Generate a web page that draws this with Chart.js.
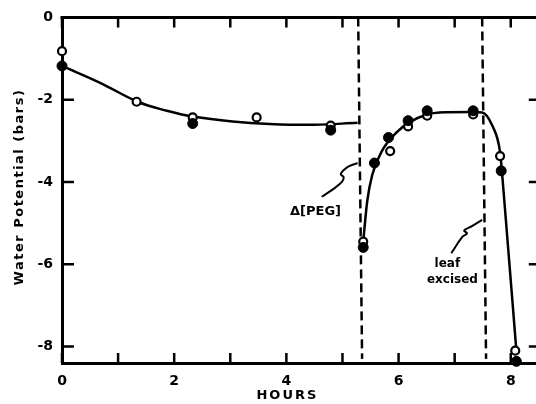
<!DOCTYPE html>
<html>
<head>
<meta charset="utf-8">
<script src="https://cdn.jsdelivr.net/npm/chart.js@4/dist/chart.umd.min.js"></script>
<style>
  html, body { margin: 0; padding: 0; background: #fff; overflow: hidden; }
  canvas { display: block; }
</style>
</head>
<body>
<canvas id="potentialChart" width="545" height="404"></canvas>
<script>
// tick labels and tick marks
const xTickLabels = [0, 2, 4, 6, 8];
const yTickLabels = [0, -2, -4, -6, -8];
const hourMarks = [0, 1, 2, 3, 4, 5, 6, 7, 8];
const barMarks = [-2, -4, -6, -8];

// measured points (hours, bars)
const openPoints = [
    { x: 0, y: -0.82 }, { x: 1.33, y: -2.05 }, { x: 2.33, y: -2.43 }, { x: 3.47, y: -2.43 },
    { x: 4.79, y: -2.63 }, { x: 5.37, y: -5.45 }, { x: 5.85, y: -3.25 }, { x: 6.17, y: -2.65 },
    { x: 6.51, y: -2.39 }, { x: 7.33, y: -2.36 }, { x: 7.81, y: -3.37 }, { x: 8.08, y: -8.1 }
];
const filledPoints = [
    { x: 0, y: -1.18 }, { x: 2.33, y: -2.58 }, { x: 4.79, y: -2.74 }, { x: 5.37, y: -5.59 },
    { x: 5.57, y: -3.54 }, { x: 5.82, y: -2.92 }, { x: 6.17, y: -2.51 }, { x: 6.51, y: -2.27 },
    { x: 7.33, y: -2.27 }, { x: 7.83, y: -3.73 }, { x: 8.1, y: -8.36 }
];

// hand-drawn curves
const curveBefore = [
    { x: 0, y: -1.18 }, { x: 0.68, y: -1.59 }, { x: 1.35, y: -2.05 }, { x: 1.87, y: -2.27 },
    { x: 2.33, y: -2.41 }, { x: 3.04, y: -2.53 }, { x: 3.7, y: -2.59 }, { x: 4.5, y: -2.61 },
    { x: 5.27, y: -2.56 }
];
const curveAfter = [
    { x: 5.37, y: -5.45 }, { x: 5.44, y: -4.48 }, { x: 5.53, y: -3.83 }, { x: 5.71, y: -3.23 },
    { x: 5.96, y: -2.8 }, { x: 6.19, y: -2.55 }, { x: 6.51, y: -2.36 }, { x: 6.73, y: -2.31 },
    { x: 7.33, y: -2.3 }, { x: 7.49, y: -2.31 }, { x: 7.67, y: -2.63 }, { x: 7.81, y: -3.28 },
    { x: 7.87, y: -4.2 }, { x: 8.1, y: -8.1 }
];

// event markers
const pegLine = [{ x: 5.28, y: 0 }, { x: 5.35, y: -8.3 }];
const excisedLine = [{ x: 7.49, y: 0 }, { x: 7.56, y: -8.3 }];
const pegPointer = [
    { x: 4.63, y: -4.36 }, { x: 4.86, y: -4.15 }, { x: 5.0, y: -3.98 }, { x: 5.02, y: -3.88 },
    { x: 4.97, y: -3.81 }, { x: 5.04, y: -3.69 }, { x: 5.13, y: -3.61 }, { x: 5.27, y: -3.54 }
];
const excisedPointer = [
    { x: 6.94, y: -5.73 }, { x: 7.14, y: -5.33 }, { x: 7.22, y: -5.25 }, { x: 7.17, y: -5.18 },
    { x: 7.3, y: -5.08 }, { x: 7.49, y: -4.92 }
];

const fontFamily = '"DejaVu Sans", "Liberation Sans", sans-serif';

const framePlugin = {
    id: 'framePlugin',
    beforeDatasetsDraw(chart) {
        const ctx = chart.ctx;
        const area = chart.chartArea;
        const xs = chart.scales.x;
        const ys = chart.scales.y;
        ctx.save();
        ctx.strokeStyle = '#000';
        ctx.lineWidth = 3;
        ctx.beginPath();
        ctx.moveTo(area.left - 1.5, area.top);
        ctx.lineTo(area.right, area.top);
        ctx.moveTo(area.right, area.top);
        ctx.lineTo(area.right, area.bottom);
        ctx.stroke();
        ctx.lineWidth = 2.5;
        ctx.beginPath();
        hourMarks.forEach(h => {
            const px = xs.getPixelForValue(h);
            ctx.moveTo(px, area.bottom);
            ctx.lineTo(px, area.bottom - 10);
            ctx.moveTo(px, area.top);
            ctx.lineTo(px, area.top + 10);
        });
        barMarks.forEach(b => {
            const py = ys.getPixelForValue(b);
            ctx.moveTo(area.left, py);
            ctx.lineTo(area.left + 12, py);
            ctx.moveTo(area.right, py);
            ctx.lineTo(area.right - 10, py);
        });
        ctx.stroke();
        ctx.restore();
    },
    afterDraw(chart) {
        const ctx = chart.ctx;
        const xs = chart.scales.x;
        const ys = chart.scales.y;
        ctx.save();
        ctx.fillStyle = '#000';
        ctx.textAlign = 'center';
        ctx.textBaseline = 'middle';

        ctx.font = 'bold 13px ' + fontFamily;
        ctx.letterSpacing = '2px';
        ctx.fillText('HOURS', xs.getPixelForValue(4) + 1, 396);

        ctx.font = 'bold 13px ' + fontFamily;
        ctx.letterSpacing = '1.5px';
        ctx.save();
        ctx.translate(20, 187);
        ctx.rotate(-Math.PI / 2);
        ctx.fillText('Water Potential (bars)', 0, 0);
        ctx.restore();

        ctx.letterSpacing = '0px';
        ctx.font = 'bold 13px ' + fontFamily;
        ctx.fillText('\u0394[PEG]', xs.getPixelForValue(4.52), ys.getPixelForValue(-4.72));
        ctx.font = 'bold 12px ' + fontFamily;
        ctx.fillText('leaf', xs.getPixelForValue(6.87), ys.getPixelForValue(-5.98));
        ctx.fillText('excised', xs.getPixelForValue(6.96), ys.getPixelForValue(-6.39));
        ctx.restore();
    }
};

const potentialConfig = {
    type: 'scatter',
    data: {
        datasets: [
            { type: 'line', label: 'before', data: curveBefore, borderColor: '#000', borderWidth: 2.5, pointRadius: 0, tension: 0.4, order: 5 },
            { type: 'line', label: 'after', data: curveAfter, borderColor: '#000', borderWidth: 2.5, pointRadius: 0, cubicInterpolationMode: 'monotone', order: 5 },
            { type: 'line', label: 'peg', data: pegLine, borderColor: '#000', borderWidth: 2.5, borderDash: [9, 5], pointRadius: 0, order: 6 },
            { type: 'line', label: 'excised', data: excisedLine, borderColor: '#000', borderWidth: 2.5, borderDash: [9, 5], pointRadius: 0, order: 6 },
            { type: 'line', label: 'peg pointer', data: pegPointer, borderColor: '#000', borderWidth: 2, pointRadius: 0, tension: 0.35, order: 6 },
            { type: 'line', label: 'excised pointer', data: excisedPointer, borderColor: '#000', borderWidth: 2, pointRadius: 0, tension: 0.35, order: 6 },
            {
                label: 'open', data: openPoints, pointRadius: 4, pointBorderWidth: 2.2,
                pointBackgroundColor: '#fff', pointBorderColor: '#000', clip: false, order: 2
            },
            {
                label: 'filled', data: filledPoints, pointRadius: 5, pointBorderWidth: 1,
                pointBackgroundColor: '#000', pointBorderColor: '#000', clip: false, order: 1
            }
        ]
    },
    options: {
        responsive: false,
        animation: false,
        layout: { padding: { top: 14, right: 5, left: 0, bottom: 0 } },
        plugins: {
            legend: { display: false },
            tooltip: { enabled: false }
        },
        scales: {
            x: {
                type: 'linear',
                min: 0,
                max: 8.5,
                grid: { display: false, drawTicks: false },
                border: { display: true, color: '#000', width: 3 },
                ticks: {
                    color: '#000',
                    padding: 10,
                    maxRotation: 0,
                    font: { family: fontFamily, size: 14, weight: 'bold' }
                },
                afterBuildTicks: scale => { scale.ticks = xTickLabels.map(v => ({ value: v })); },
                afterFit: scale => { scale.height = 41; }
            },
            y: {
                type: 'linear',
                min: -8.4,
                max: 0,
                grid: { display: false, drawTicks: false },
                border: { display: true, color: '#000', width: 3 },
                ticks: {
                    color: '#000',
                    padding: 9,
                    font: { family: fontFamily, size: 14, weight: 'bold' }
                },
                afterBuildTicks: scale => { scale.ticks = yTickLabels.map(v => ({ value: v })); },
                afterFit: scale => { scale.width = 62; }
            }
        }
    },
    plugins: [framePlugin]
};

var potentialChart = new Chart(document.getElementById('potentialChart'), potentialConfig);
</script>
</body>
</html>
